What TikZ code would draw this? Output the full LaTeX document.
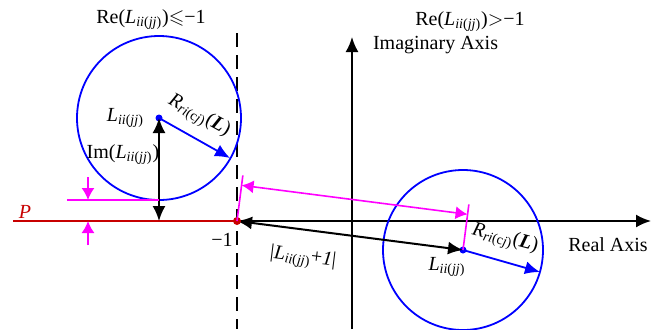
\documentclass[tikz,border=0pt]{standalone}
\usepackage{amssymb}
\usepackage{fontspec}
\setmainfont{Liberation Serif}
\usetikzlibrary{arrows.meta, calc}
\definecolor{cblue}{RGB}{0, 0, 255}
\definecolor{cmag}{RGB}{255, 0, 255}
\definecolor{cred}{RGB}{200, 0, 0}
\newcommand{\Lij}{\textit{L}\textsubscript{\textit{ii}(\textit{jj})}}
\newcommand{\Rri}{\textit{R}\textsubscript{\textit{ri}(c\textit{j})}(\textbf{\textit{L}})}

\begin{document}
\begin{tikzpicture}[x=0.5pt, y=0.5pt, font=\fontsize{10}{12}\selectfont,
    axis/.style={line width=1pt},
    tip/.style={-{Latex[length=7.5pt, width=6.5pt]}},
    dtip/.style={{Latex[length=7.5pt, width=6.5pt]}-{Latex[length=7.5pt, width=6.5pt]}},
    circ/.style={draw=cblue, line width=0.9pt},
    dim/.style={cmag, line width=0.8pt},
    mtip/.style={-{Latex[length=6pt, width=6.5pt]}}]
  \useasboundingbox (0,0) rectangle (652,329);

  % points
  \coordinate (m1) at (237,108);
  \coordinate (axr) at (651,108);
  \coordinate (pl) at (13,108);
  \coordinate (dtop) at (237,296);
  \coordinate (dbot) at (237,0);
  \coordinate (imb) at (352,0);
  \coordinate (imt) at (352,292);
  \coordinate (cl) at (159,211);
  \coordinate (cr) at (463,79);
  \coordinate (rl) at (230,171);
  \coordinate (rr) at (540,57);
  \coordinate (im0) at (159,108);
  \coordinate (tl) at (67,129);
  \coordinate (tb) at (159,129);
  \coordinate (da) at (88,152);
  \coordinate (db) at (88,129);
  \coordinate (ua) at (88,84);
  \coordinate (ub) at (88,108);
  \coordinate (e1) at ($(m1)!23pt!90:(cr)$);
  \coordinate (e2) at ($(cr)!23pt!-90:(m1)$);
  \coordinate (d1) at ($(m1)!18pt!90:(cr)$);
  \coordinate (d2) at ($(cr)!18pt!-90:(m1)$);

  % dashed line and axes
  \draw[dashed, line width=0.9pt, dash pattern=on 7pt off 4pt] (dtop) -- (dbot);
  \draw[cred, line width=1.1pt] (pl) -- (m1);
  \draw[axis, tip] (m1) -- (axr);
  \draw[axis, tip] (imb) -- (imt);

  % circles
  \draw[circ] (cl) circle[radius=82];
  \draw[circ] (cr) circle[radius=80];
  \draw[cblue, line width=0.9pt, tip] (cl) -- (rl);
  \draw[cblue, line width=0.9pt, tip] (cr) -- (rr);
  \fill[cblue] (cl) circle[radius=3.5];
  \fill[cblue] (cr) circle[radius=3.5];

  % black distances
  \draw[axis, dtip] (im0) -- (cl);
  \draw[axis, dtip] (m1) -- (cr);
  \fill[cred] (m1) circle[radius=4];

  % magenta marks
  \draw[dim] (tl) -- (tb);
  \draw[dim, mtip] (da) -- (db);
  \draw[dim, mtip] (ua) -- (ub);
  \draw[dim] (m1) -- (e1);
  \draw[dim] (cr) -- (e2);
  \draw[dim, {Latex[length=6pt, width=6.5pt]}-{Latex[length=6pt, width=6.5pt]}] (d1) -- (d2);

  % labels
  \node (hl) at (151,309) {Re(\Lij)$\leqslant$−1};
  \node (hr) at (470,307) {Re(\Lij)$>$−1};
  \node[anchor=west] (ia) at (366,284) {Imaginary Axis};
  \node (ra) at (608,84) {Real Axis};
  \node (mo) at (222,89) {−1};
  \node[cred] (pp) at (25,117) {\textit{P}};
  \node[anchor=east] (ll) at (151,211) {\Lij};
  \node (iml) at (123,174) {Im(\Lij)};
  \node[rotate=-29] (rlab) at (199,213) {\Rri};
  \node[rotate=-15] (rrab) at (505,90) {\Rri};
  \node (lr) at (447,62) {\Lij};
  \node[rotate=-7] (dl) at (303,71) {|\Lij+\textit{1}|};
\end{tikzpicture}
\end{document}
